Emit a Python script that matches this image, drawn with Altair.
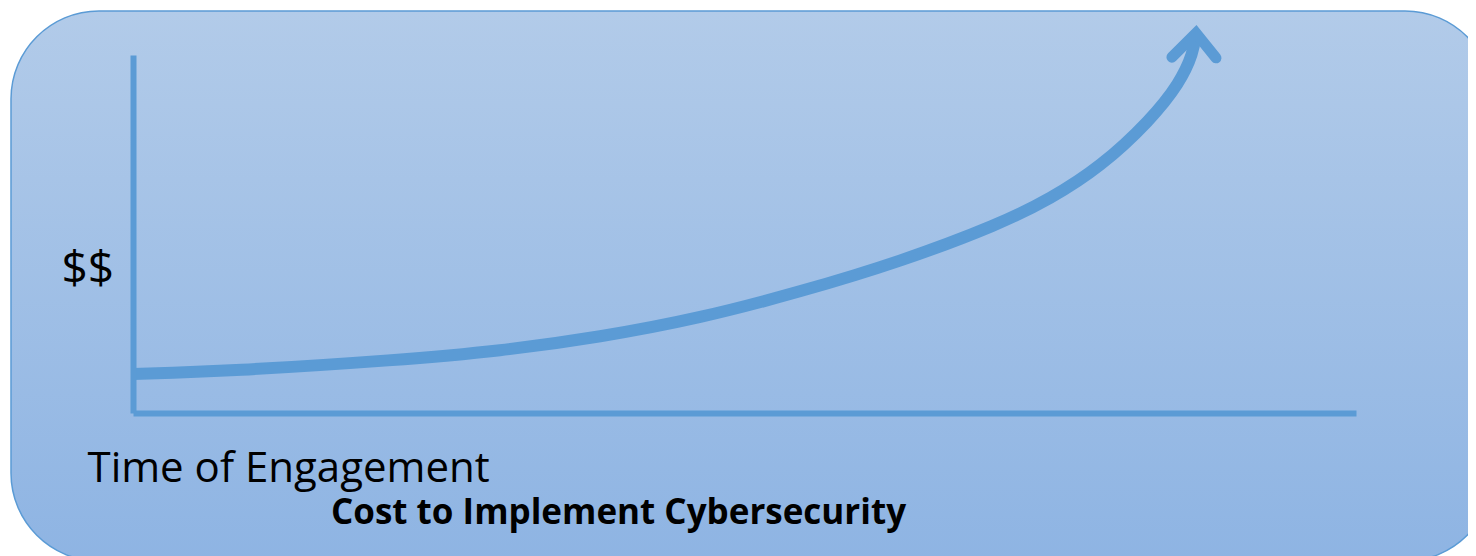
import altair as alt
import pandas as pd

# Curve: cost vs time of engagement (data units: x 0-100 time, y 0-100 cost)
curve_time = [0.0, 7.9, 21.8, 30.0, 38.2, 46.4, 54.5, 62.7, 70.9, 75.0, 79.1, 83.2, 85.6, 86.7, 86.9]
curve_cost = [10.9, 11.7, 14.8, 17.3, 21.2, 26.5, 33.8, 42.2, 52.8, 59.8, 68.7, 81.8, 92.2, 100.6, 105.9]

# Arrowhead at the end of the curve
arrow_time = [84.95, 86.92, 88.55]
arrow_cost = [99.4, 106.1, 99.2]

y_title = "$$"
x_title = "Time of Engagement"
chart_title = "Cost to Implement Cybersecurity"

LINE = "#5b9bd5"
FONT = "Open Sans"

curve_df = pd.DataFrame({"t": curve_time, "c": curve_cost, "o": list(range(len(curve_time)))})
arrow_df = pd.DataFrame({"t": arrow_time, "c": arrow_cost, "o": list(range(len(arrow_time)))})

xscale = alt.Scale(domain=[0, 100], nice=False, zero=False)
yscale = alt.Scale(domain=[0, 100], nice=False, zero=False)

grad = alt.LinearGradient(
    gradient="linear",
    stops=[alt.GradientStop(color="#b2cbe9", offset=0),
           alt.GradientStop(color="#8eb4e3", offset=1)],
    x1=0, x2=0, y1=0, y2=1,
)

panel = alt.Chart(pd.DataFrame({"a": [0]})).mark_rect(
    fill=grad, stroke=LINE, strokeWidth=1.5, cornerRadius=88, clip=False
).encode(
    x=alt.value(-122), x2=alt.value(1360),
    y=alt.value(-44), y2=alt.value(506),
)

curve = alt.Chart(curve_df).mark_line(
    color=LINE, strokeWidth=12, interpolate="basis", strokeCap="butt", clip=False
).encode(
    x=alt.X("t:Q", scale=xscale,
            axis=alt.Axis(title=x_title, domain=True, ticks=False, labels=False, grid=False,
                          domainColor=LINE, domainWidth=6, zindex=1,
                          titleFont=FONT, titleFontSize=42, titleFontWeight="normal",
                          titleColor="#000000", titleAngle=0, titleAlign="left",
                          titleBaseline="alphabetic", titleX=-46, titleY=68)),
    y=alt.Y("c:Q", scale=yscale,
            axis=alt.Axis(title=y_title, domain=True, ticks=False, labels=False, grid=False,
                          domainColor=LINE, domainWidth=6, zindex=1,
                          titleFont=FONT, titleFontSize=46, titleFontWeight="normal",
                          titleColor="#000000", titleAngle=0, titleAlign="left",
                          titleBaseline="alphabetic", titleX=-72, titleY=228)),
    order="o:Q",
)

arrow = alt.Chart(arrow_df).mark_line(
    color=LINE, strokeWidth=11, strokeCap="round", strokeJoin="miter", clip=False
).encode(
    x=alt.X("t:Q", scale=xscale),
    y=alt.Y("c:Q", scale=yscale),
    order="o:Q",
)

chart = alt.layer(panel, curve, arrow).properties(
    width=1223, height=358,
    padding={"left": 125, "top": 47, "right": 112, "bottom": 143},
    autosize=alt.AutoSizeParams(type="none"),
    title=alt.TitleParams(text=chart_title, orient="bottom", anchor="middle", frame="group",
                          baseline="alphabetic",
                          font=FONT, fontSize=35, fontWeight="bold", color="#000000",
                          dx=-126, dy=-38, offset=0),
).configure_view(stroke=None)

chart.save("out.html", embed_options={"renderer": "svg", "actions": False})
